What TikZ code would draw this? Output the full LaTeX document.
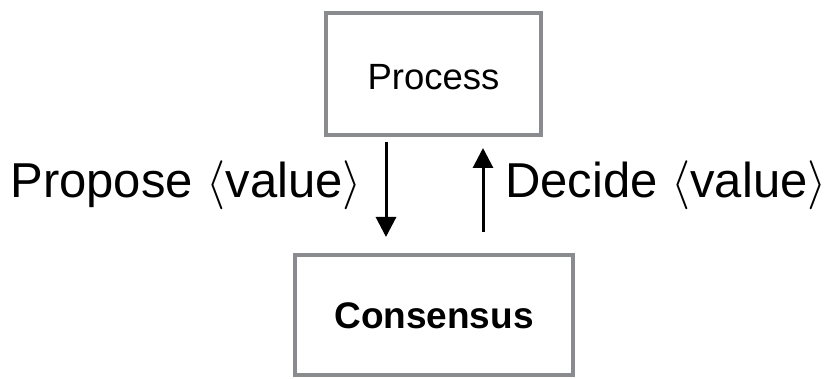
\RequirePackage{fix-cm}
\documentclass[tikz,border=0pt]{standalone}
\usepackage{amsmath}
\usepackage{fontspec}
\setmainfont{Liberation Sans}
\usetikzlibrary{arrows.meta}
\definecolor{boxgray}{RGB}{138,139,143}
\begin{document}
\begin{tikzpicture}[x=1pt,y=1pt,
  box/.style={draw=boxgray, line width=4pt, rectangle, inner sep=0pt},
  flow/.style={line width=3pt, -{Triangle[width=20pt,length=20pt]}},
  lbl/.style={inner sep=0pt, font=\fontsize{49}{56}\selectfont}]
  \useasboundingbox (0,0) rectangle (838,-379);
  % the two boxes
  \node[box, minimum width=215pt, minimum height=122pt,
        text height=32pt, text depth=0pt,
        font=\fontsize{36.5}{42}\selectfont] (P) at (433.5,-74) {Process};
  \node[box, minimum width=278pt, minimum height=120pt,
        text height=28pt, text depth=0pt,
        font=\fontsize{37}{42}\bfseries\selectfont] (C) at (434,-315) {Consensus};
  % request and response
  \draw[flow] ([xshift=-47.5pt,yshift=-5pt]P.south) -- ([xshift=-48pt,yshift=16pt]C.north);
  \draw[flow] ([xshift=49pt,yshift=21pt]C.north) -- ([xshift=49.5pt,yshift=-11pt]P.south);
  % labels
  \node[lbl, anchor=base east] (pl) at (362,-198) {Propose $\langle$value$\rangle$};
  \node[lbl, anchor=base west] (dl) at (505,-198) {Decide $\langle$value$\rangle$};
\end{tikzpicture}
\end{document}
